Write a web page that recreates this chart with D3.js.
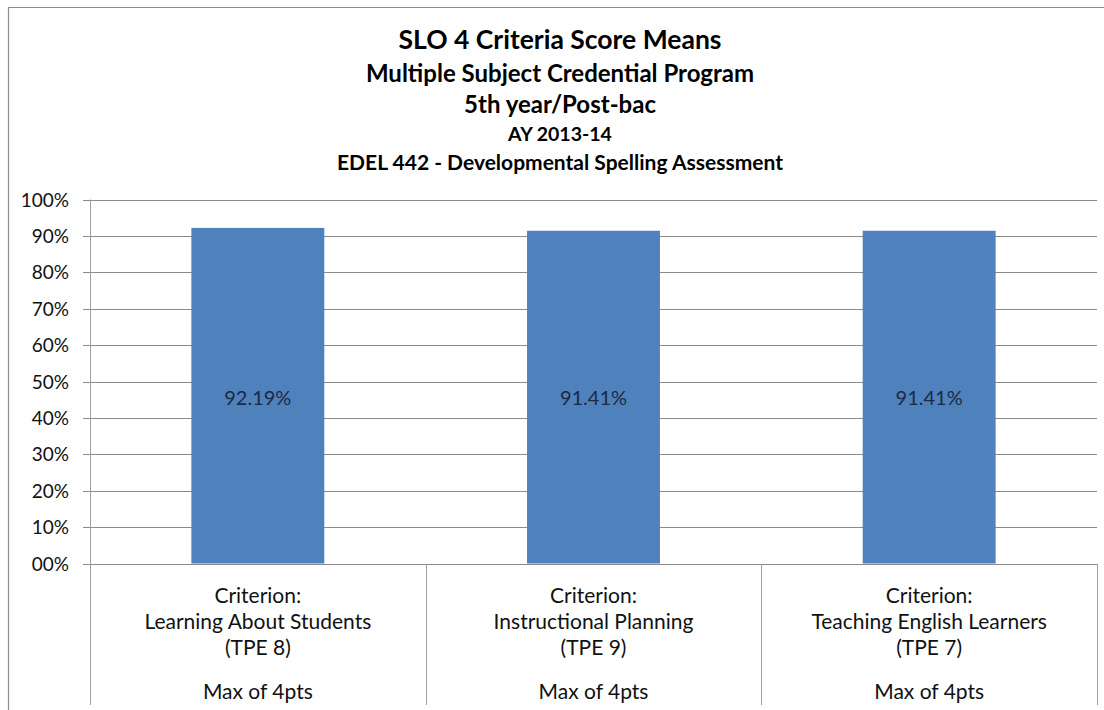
<!DOCTYPE html>
<html>
<head>
<meta charset="utf-8">
<script src="https://cdn.jsdelivr.net/npm/d3@7"></script>
<style>
  html, body { margin: 0; padding: 0; background: #fff; }
  svg { display: block; }
  text { font-family: Lato, "Open Sans", sans-serif; }
</style>
</head>
<body>
<svg id="chart" width="1104" height="710"></svg>
<script>
// ---- data ----
const titleLines = [
  "SLO 4 Criteria Score Means",
  "Multiple Subject Credential Program",
  "5th year/Post-bac",
  "AY 2013-14",
  "EDEL 442 - Developmental Spelling Assessment"
];
const categories = ["Learning About Students", "Instructional Planning", "Teaching English Learners"];
const categoryCodes = ["(TPE 8)", "(TPE 9)", "(TPE 7)"];
const categoryPrefix = "Criterion:";
const categoryMax = "Max of 4pts";
const values = [92.19, 91.41, 91.41];
const yTicks = [0, 10, 20, 30, 40, 50, 60, 70, 80, 90, 100];
const yTickLabels = ["00%", "10%", "20%", "30%", "40%", "50%", "60%", "70%", "80%", "90%", "100%"];

// ---- layout ----
const svg = d3.select("#chart");
const plot = { left: 90, right: 1097, top: 199.5, bottom: 563.5 };

const x = d3.scaleBand().domain(categories).range([plot.left, plot.right]).paddingInner(0).paddingOuter(0);
const y = d3.scaleLinear().domain([0, 100]).range([plot.bottom, plot.top]);

// outer border (left + top)
svg.append("path")
  .attr("d", `M8.5,710 L8.5,7.5 L1104,7.5`)
  .attr("fill", "none").attr("stroke", "#8c8c8c").attr("stroke-width", 1.2);

// title
const titleSizes = [26.5, 24, 24, 19.5, 21];
const titleY = [49, 82, 113, 141, 170];
svg.append("g").selectAll("text").data(titleLines).join("text")
  .attr("x", 560).attr("y", (d, i) => titleY[i])
  .attr("text-anchor", "middle")
  .attr("font-weight", "bold")
  .attr("font-size", (d, i) => titleSizes[i])
  .attr("fill", "#000")
  .text(d => d);

// gridlines
svg.append("g").selectAll("line").data(yTicks).join("line")
  .attr("x1", plot.left - 7).attr("x2", plot.right)
  .attr("y1", d => Math.round(y(d)) + 0.5).attr("y2", d => Math.round(y(d)) + 0.5)
  .attr("stroke", "#8a8a8a").attr("stroke-width", 1);

// y axis labels via d3 axis
const yAxis = d3.axisLeft(y).tickValues(yTicks).tickFormat((d, i) => yTickLabels[i]).tickSize(0).tickPadding(0);
const yg = svg.append("g").attr("transform", `translate(${plot.left - 21},0)`).call(yAxis);
yg.select(".domain").remove();
yg.selectAll("text").attr("font-size", 19).attr("fill", "#111").attr("font-family", "Lato, sans-serif").attr("dy", "0.35em");

// vertical axis line
svg.append("line")
  .attr("x1", plot.left + 0.5).attr("x2", plot.left + 0.5)
  .attr("y1", plot.top).attr("y2", 705)
  .attr("stroke", "#a0a0a0").attr("stroke-width", 1);

// category separators
const seps = categories.slice(1).map(c => x(c)).concat([plot.right]);
svg.append("g").selectAll("line").data(seps).join("line")
  .attr("x1", d => Math.round(d) + 0.5).attr("x2", d => Math.round(d) + 0.5)
  .attr("y1", Math.round(y(0))).attr("y2", 705)
  .attr("stroke", "#a0a0a0").attr("stroke-width", 1);

// bars
const bw = x.bandwidth();
svg.append("g").selectAll("rect").data(values).join("rect")
  .attr("x", (d, i) => x(categories[i]) + bw * 0.302)
  .attr("width", bw * 0.396)
  .attr("y", d => y(d))
  .attr("height", d => y(0) - y(d))
  .attr("fill", "#4f81bd");

// data labels
svg.append("g").selectAll("text").data(values).join("text")
  .attr("x", (d, i) => x(categories[i]) + bw / 2)
  .attr("y", 405)
  .attr("text-anchor", "middle")
  .attr("font-size", 20)
  .attr("fill", "#1c2a44")
  .text(d => d.toFixed(2) + "%");

// category labels
const catG = svg.append("g").selectAll("g").data(categories).join("g")
  .attr("transform", d => `translate(${x(d) + bw / 2},0)`);
const lineY = [603, 629, 655, 699];
catG.each(function (d, i) {
  const lines = [categoryPrefix, d, categoryCodes[i], categoryMax];
  d3.select(this).selectAll("text").data(lines).join("text")
    .attr("x", 0).attr("y", (t, j) => lineY[j])
    .attr("text-anchor", "middle")
    .attr("font-size", 21)
    .attr("fill", "#111")
    .text(t => t);
});
</script>
</body>
</html>
